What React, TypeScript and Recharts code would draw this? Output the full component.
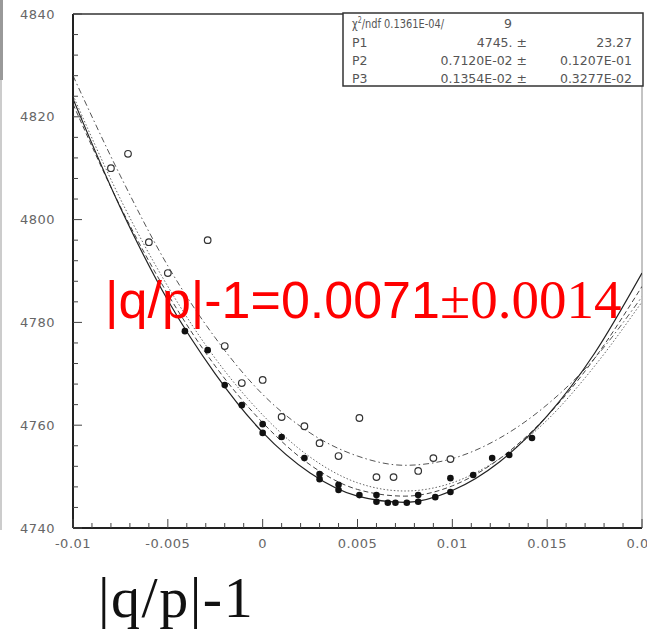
import React from 'react';
import { ComposedChart, Line, Scatter, XAxis, YAxis, ReferenceLine } from 'recharts';

// fit curves at fixed x steps
const fitX = [-0.01, -0.0075, -0.005, -0.0025, 0, 0.0025, 0.005, 0.0075, 0.01, 0.0125, 0.015, 0.0175, 0.02];
const fitSolid = [4823.5, 4802.3, 4784.3, 4770.0, 4758.6, 4750.7, 4746.2, 4745.0, 4747.3, 4752.9, 4761.8, 4774.0, 4789.6];
const fitDashed = [4822.5, 4802.5, 4785.5, 4771.5, 4760.5, 4752.3, 4747.5, 4746.2, 4748.2, 4753.5, 4761.8, 4773.0, 4787.0];
const fitDotted = [4824.2, 4804.0, 4787.0, 4773.0, 4762.0, 4753.8, 4748.8, 4747.2, 4748.8, 4753.5, 4761.0, 4771.5, 4784.0];
const fitDashDot = [4828.0, 4808.5, 4791.0, 4777.0, 4766.0, 4758.5, 4754.0, 4752.2, 4753.5, 4757.5, 4764.0, 4773.0, 4785.0];

// filled markers
const filledX = [-0.0041, -0.0029, -0.002, -0.0011, 0.0, 0.0, 0.001, 0.0022, 0.003, 0.003, 0.004, 0.004, 0.0051, 0.006, 0.006, 0.0066, 0.007, 0.0076, 0.0082, 0.0082, 0.0091, 0.0099, 0.0099, 0.0111, 0.0121, 0.013, 0.0142];
const filledY = [4778.3, 4774.6, 4767.8, 4763.9, 4760.2, 4758.5, 4757.7, 4753.6, 4750.5, 4749.5, 4748.4, 4747.4, 4746.4, 4746.4, 4745.1, 4744.9, 4744.9, 4744.9, 4746.4, 4745.1, 4746.0, 4749.7, 4747.0, 4750.3, 4753.6, 4754.2, 4757.5];

// open markers
const openX = [-0.008, -0.0071, -0.006, -0.005, -0.0029, -0.002, -0.0011, 0.0, 0.001, 0.0022, 0.003, 0.004, 0.0051, 0.006, 0.0069, 0.0082, 0.009, 0.0099];
const openY = [4810.0, 4812.8, 4795.6, 4789.6, 4796.0, 4775.4, 4768.2, 4768.8, 4761.6, 4759.8, 4756.5, 4754.0, 4761.4, 4749.9, 4749.9, 4751.1, 4753.6, 4753.4];

const majorY = [4740, 4760, 4780, 4800, 4820, 4840];
const minorY = [4744, 4748, 4752, 4756, 4764, 4768, 4772, 4776, 4784, 4788, 4792, 4796, 4804, 4808, 4812, 4816, 4824, 4828, 4832, 4836];
const majorX = [-0.01, -0.005, 0, 0.005, 0.01, 0.015, 0.02];
const xLabels = ['-0.01', '-0.005', '0', '0.005', '0.01', '0.015', '0.02'];
const minorX = [-0.009, -0.008, -0.007, -0.006, -0.004, -0.003, -0.002, -0.001, 0.001, 0.002, 0.003, 0.004, 0.006, 0.007, 0.008, 0.009, 0.011, 0.012, 0.013, 0.014, 0.016, 0.017, 0.018, 0.019];

const statRows = [
  ['P1', '4745. \u00b1', '23.27'],
  ['P2', '0.7120E-02 \u00b1', '0.1207E-01'],
  ['P3', '0.1354E-02 \u00b1', '0.3277E-02'],
];

const fitRows = fitX.map((x, i) => ({ x, a: fitSolid[i], b: fitDashed[i], c: fitDotted[i], d: fitDashDot[i] }));
const filledPts = filledX.map((x, i) => ({ x, y: filledY[i] }));
const openPts = openX.map((x, i) => ({ x, y: openY[i] }));

const tickFont = { fontFamily: 'DejaVu Sans', fontSize: 13, fill: '#666', letterSpacing: 0.5 };
const statFont = { fontFamily: 'DejaVu Sans', fontSize: 12.5, fill: '#555' };

function YTick(props: any) {
  const { x, y, payload } = props;
  const v = payload.value;
  const ax = x + 18;
  const major = majorY.includes(v);
  return (
    <g>
      <line x1={ax} x2={ax + (major ? 9 : 5)} y1={y} y2={y} stroke="#444" strokeWidth={1} />
      {major && <text x={x} y={y} dy={4.5} textAnchor="end" style={tickFont}>{v}</text>}
    </g>
  );
}

function XTick(props: any) {
  const { x, y, payload } = props;
  const v = payload.value;
  const ay = y - 8;
  const idx = majorX.findIndex(m => Math.abs(m - v) < 1e-9);
  return (
    <g>
      <line x1={x} x2={x} y1={ay} y2={ay - (idx >= 0 ? 9 : 5)} stroke="#444" strokeWidth={1} />
      {idx >= 0 && <text x={x} y={ay + 20} textAnchor="middle" style={tickFont}>{xLabels[idx]}</text>}
    </g>
  );
}

const openDot = (p: any) => <circle cx={p.cx} cy={p.cy} r={3.3} fill="#fff" stroke="#333" strokeWidth={1.2} />;
const fullDot = (p: any) => <circle cx={p.cx} cy={p.cy} r={3.3} fill="#111" />;

export default function App() {
  return (
    <div style={{ position: 'absolute', left: 0, top: 0, width: 647, height: 631, background: '#fff' }}>
      <ComposedChart width={647} height={631} data={fitRows} margin={{ top: 14, right: 5, bottom: 73, left: 0 }}>
        <XAxis dataKey="x" type="number" domain={[-0.01, 0.02]} allowDataOverflow ticks={[...majorX, ...minorX]} interval={0}
          tick={<XTick />} tickLine={false} tickSize={0} tickMargin={8} height={30} axisLine={{ stroke: '#222', strokeWidth: 2 }} />
        <YAxis type="number" domain={[4740, 4840]} allowDataOverflow ticks={[...majorY, ...minorY]} interval={0}
          tick={<YTick />} tickLine={false} tickSize={0} tickMargin={18} width={73} axisLine={{ stroke: '#222', strokeWidth: 2 }} />
        <ReferenceLine y={4840} stroke="#333" strokeWidth={1.5} />
        <ReferenceLine x={0.02} stroke="#888" strokeWidth={1} />
        <Line dataKey="d" type="monotone" stroke="#555" strokeWidth={1} strokeDasharray="6 3 1.5 3" dot={false} activeDot={false} isAnimationActive={false} />
        <Line dataKey="c" type="monotone" stroke="#666" strokeWidth={1} strokeDasharray="1.5 2" dot={false} activeDot={false} isAnimationActive={false} />
        <Line dataKey="b" type="monotone" stroke="#444" strokeWidth={1} strokeDasharray="5 3" dot={false} activeDot={false} isAnimationActive={false} />
        <Line dataKey="a" type="monotone" stroke="#222" strokeWidth={1.2} dot={false} activeDot={false} isAnimationActive={false} />
        <Scatter data={openPts} dataKey="y" shape={openDot} isAnimationActive={false} />
        <Scatter data={filledPts} dataKey="y" shape={fullDot} isAnimationActive={false} />
      </ComposedChart>

      <svg width={647} height={631} style={{ position: 'absolute', left: 0, top: 0, pointerEvents: 'none' }}>
        <rect x={0} y={0} width={3} height={80} fill="#999" />
        <rect x={0} y={80} width={2} height={450} fill="#ccc" />

        {/* stats box */}
        <rect x={343} y={13} width={300} height={73} fill="#fff" stroke="#333" strokeWidth={1.5} />
        <text x={352} y={28} style={statFont} textLength={92} lengthAdjust="spacingAndGlyphs">
          {'\u03c7'}<tspan dy={-5} fontSize={8}>2</tspan><tspan dy={5}>/ndf 0.1361E-04/</tspan>
        </text>
        <text x={512} y={28} textAnchor="end" style={statFont}>9</text>
        {statRows.map((r, i) => (
          <g key={r[0]}>
            <text x={352} y={47 + i * 18} style={statFont}>{r[0]}</text>
            <text x={527} y={47 + i * 18} textAnchor="end" style={statFont}>{r[1]}</text>
            <text x={632} y={47 + i * 18} textAnchor="end" style={statFont}>{r[2]}</text>
          </g>
        ))}

        {/* result annotation */}
        <text x={105} y={318} fill="#ff0000" style={{ fontFamily: 'Liberation Sans', fontSize: 52 }}>
          |q/p|-1=0.0071<tspan style={{ fontFamily: 'Liberation Serif', fontSize: 55 }}>{'\u00b1'}0.0014</tspan>
        </text>

        <text x={98} y={617} fill="#111" style={{ fontFamily: 'Liberation Serif', fontSize: 58, letterSpacing: 1.5 }}>|q/p|-1</text>
      </svg>
    </div>
  );
}
